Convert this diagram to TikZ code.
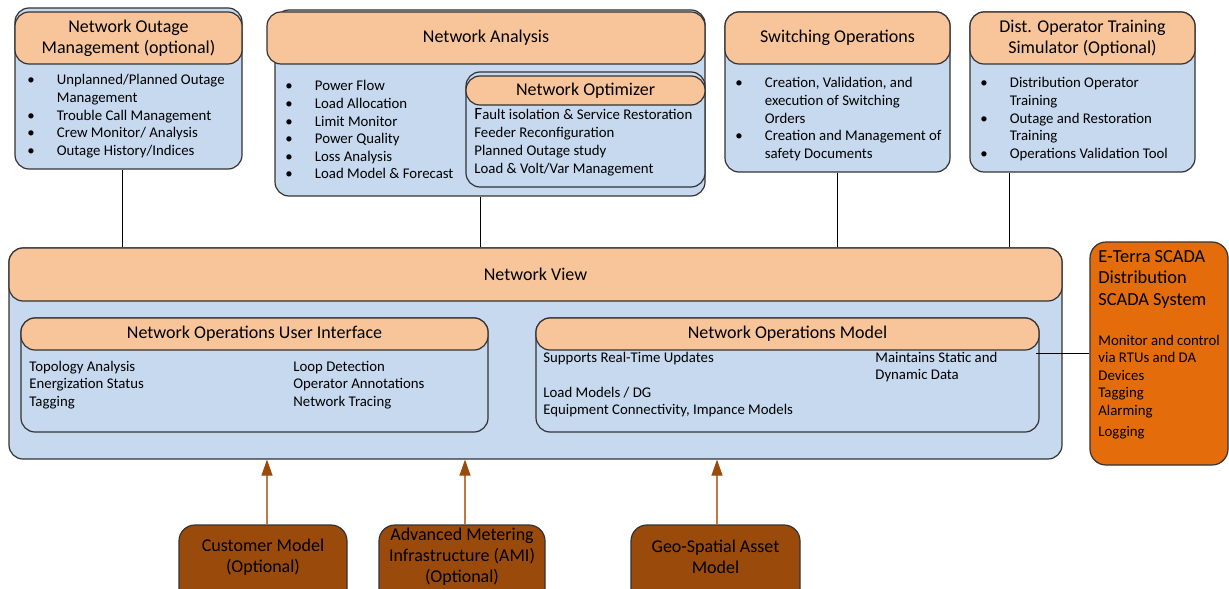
\documentclass[tikz,border=0pt]{standalone}
\usepackage{fontspec}
\setmainfont{Carlito}
\usetikzlibrary{fit,arrows.meta}
\definecolor{hdrorange}{HTML}{F8C49A}
\definecolor{bodyblue}{HTML}{C6D9EF}
\definecolor{scadaorange}{HTML}{E46C0A}
\definecolor{srcbrown}{HTML}{9A4A0A}
\definecolor{feedbrown}{HTML}{C07A45}
\newcommand{\blt}{\makebox[14.75pt][l]{\textbullet}}
\newcommand{\bltpad}{\hspace*{14.75pt}}
\newcommand{\lst}[1]{\begin{tabular}[t]{@{}l@{}}#1\end{tabular}}
\begin{document}
\begin{tikzpicture}[
    x=0.5pt, y=-0.5pt,
    body/.style={draw=black!80, fill=bodyblue, rounded corners=7pt, inner sep=0pt, line width=0.6pt},
    hdr/.style={draw=black!80, fill=hdrorange, rounded corners=7pt, inner sep=0pt, line width=0.6pt},
    title/.style={inner sep=0pt, align=center, font=\fontsize{9}{10.6}\selectfont},
    txt/.style={anchor=base west, inner sep=0pt, font=\fontsize{7.4}{8.8}\selectfont},
    scada_box/.style={draw=black!80, fill=scadaorange, rounded corners=8pt, inner sep=0pt, line width=0.6pt},
    src/.style={draw=black!80, fill=srcbrown, rounded corners=8pt, inner sep=0pt, line width=0.6pt},
    link/.style={draw=black, line width=0.5pt},
    feed/.style={draw=feedbrown, line width=0.6pt, -{Triangle[length=8pt, width=5.5pt, color=srcbrown]}}
]
\useasboundingbox (0,0) rectangle (1229,588);
\clip (0,0) rectangle (1229,588);

% top row
\node[body, fit={(15,8) (242,169)}] (nomg) {};
\node[hdr, fit={(15,12) (242,64)}] (nomgh) {};
\node[title] at (nomgh) {Network Outage\\Management (optional)};
\node[txt] (nomgl) at (27,85) {\lst{\blt Unplanned/Planned Outage\\\bltpad Management\\\blt Trouble Call Management\\\blt Crew Monitor/ Analysis\\\blt Outage History/Indices}};

\node[body, fit={(275,10) (705,196)}] (na) {};
\node[hdr, fit={(267,12) (705,64)}] (nah) {};
\node[title] at (nah) {Network Analysis};
\node[txt, font=\fontsize{7.4}{8.8}\selectfont] (nal) at (285,91) {\lst{\blt Power Flow\\\blt Load Allocation\\\blt Limit Monitor\\\blt Power Quality\\\blt Loss Analysis\\\blt Load Model \& Forecast}};
\node[body, fit={(466,72) (705,187)}] (opt) {};
\node[hdr, fit={(466,76) (705,105)}] (opth) {};
\node[title] at (opth) {Network Optimizer};
\node[txt, font=\fontsize{7.4}{9}\selectfont] (optl) at (474,120) {\lst{{\fontsize{8.6}{9}\selectfont F}ault isolation \& Service Restoration\\Feeder Reconfiguration\\Planned Outage study\\Load \& Volt/Var Management}};

\node[body, fit={(725,12) (950,172)}] (sw) {};
\node[hdr, fit={(725,12) (950,64)}] (swh) {};
\node[title] at (swh) {Switching Operations};
\node[txt] (swl) at (735,88) {\lst{\blt Creation, Validation, and\\\bltpad execution of Switching\\\bltpad Orders\\\blt Creation and Management of\\\bltpad safety Documents}};

\node[body, fit={(970,12) (1195,172)}] (dts) {};
\node[hdr, fit={(970,12) (1195,64)}] (dtsh) {};
\node[title] at (dtsh) {Dist. Operator Training\\Simulator (Optional)};
\node[txt] (dtsl) at (980,88) {\lst{\blt Distribution Operator\\\bltpad Training\\\blt Outage and Restoration\\\bltpad Training\\\blt Operations Validation Tool}};

% network view
\node[body, fit={(9,248) (1062,459)}] (nv) {};
\node[hdr, fit={(9,248) (1062,301)}] (nvh) {};
\node[title] at (nvh) {Network View};

\node[body, fit={(21,318) (488,432)}] (noui) {};
\node[hdr, fit={(21,318) (488,350)}] (nouih) {};
\node[title] at (nouih) {Network Operations User Interface};
\node[txt] (nouia) at (29,371) {\lst{Topology Analysis\\Energization Status\\Tagging}};
\node[txt] (nouib) at (293,371) {\lst{Loop Detection\\Operator Annotations\\Network Tracing}};

\node[body, fit={(536,318) (1039,432)}] (nom) {};
\node[hdr, fit={(536,318) (1039,350)}] (nomh) {};
\node[title] at (nomh) {Network Operations Model};
\node[txt] (noma) at (543,362) {Supports Real-Time Updates};
\node[txt] (nomb) at (543,397) {\lst{Load Models / DG\\Equipment Connectivity, Impance Models}};
\node[txt] (nomc) at (875,362) {\lst{Maintains Static and\\Dynamic Data}};

% scada
\node[scada_box, fit={(1090,242) (1228,465)}] (scada) {};
\node[txt, font=\fontsize{9.2}{10.8}\selectfont] (scadat) at (1098,262) {\lst{E-Terra SCADA\\Distribution\\SCADA System}};
\node[txt] (scadal) at (1098,345) {\lst{Monitor and control\\via RTUs and DA\\Devices\\Tagging\\Alarming\\[1.6pt]Logging}};

% sources (cut off at the bottom edge)
\node[src, fit={(179,525) (347,610)}] (cust) {};
\node[title] at ([yshift=-16.25pt]cust.north) {Customer Model\\(Optional)};
\node[src, fit={(379,525) (545,610)}] (ami) {};
\node[title] at ([yshift=-16.25pt]ami.north) {Advanced Metering\\Infrastructure (AMI)\\(Optional)};
\node[src, fit={(631,525) (800,610)}] (geo) {};
\node[title] at ([yshift=-16.25pt]geo.north) {Geo-Spatial Asset\\Model};

% links
\draw[link] ([xshift=-3.25pt]nomg.south) -- ([xshift=-3.25pt]nomg.south |- nv.north);
\draw[link] ([xshift=-5pt]na.south) -- ([xshift=-5pt]na.south |- nv.north);
\draw[link] (sw.south) -- (sw.south |- nv.north);
\draw[link] ([xshift=-36.75pt]dts.south) -- ([xshift=-36.75pt]dts.south |- nv.north);
\coordinate (nomport) at (1036,353);
\draw[link] (nomport) -- (nomport -| scada.west);

\draw[feed] ([xshift=2pt]cust.north) -- ([xshift=2pt]cust.north |- nv.south);
\draw[feed] ([xshift=1.5pt]ami.north) -- ([xshift=1.5pt]ami.north |- nv.south);
\draw[feed] ([xshift=0.75pt]geo.north) -- ([xshift=0.75pt]geo.north |- nv.south);
\end{tikzpicture}
\end{document}
